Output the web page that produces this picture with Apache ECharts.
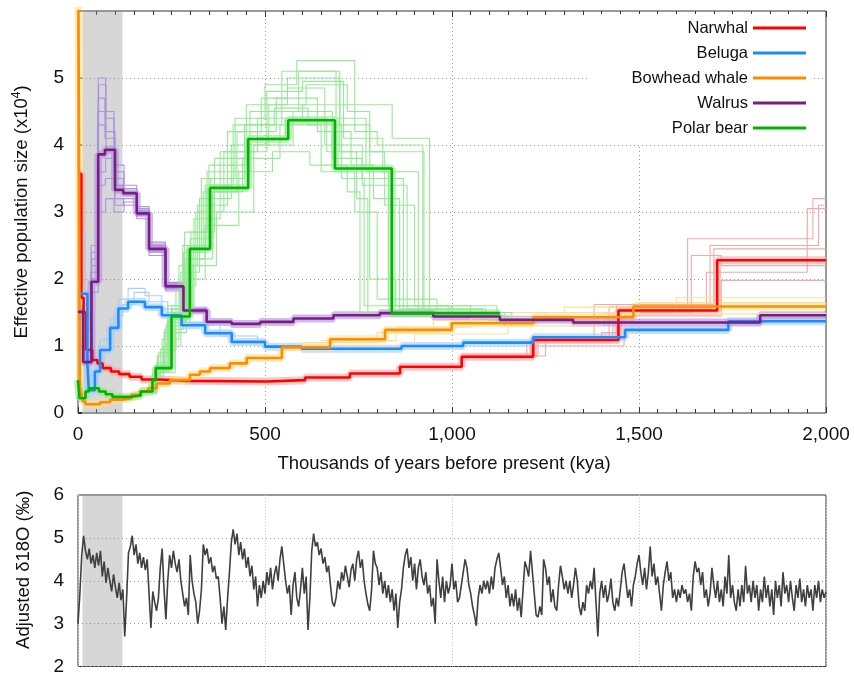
<!DOCTYPE html>
<html><head><meta charset="utf-8">
<script src="https://cdn.jsdelivr.net/npm/echarts@6/dist/echarts.min.js"></script>
<style>html,body{margin:0;padding:0;background:#fff}#c{width:854px;height:676px}</style>
</head><body><div id="c"></div>
<script>
// ---------- DATA ----------
const speciesNames = ['Narwhal', 'Beluga', 'Bowhead whale', 'Walrus', 'Polar bear'];
const xTicks = [0, 500, 1000, 1500, 2000];
const shadeRange = [12, 119]; // kya

// PSMC main curves: [kya (start of step), Ne x10^4]
const narwhal = [[0,3.57],[9,1.72],[15,1.5],[22,0.94],[38,0.79],[52,0.74],[66,0.67],[88,0.62],[110,0.58],[138,0.54],[170,0.5],[220,0.48],[290,0.47],[505,0.49],[607,0.53],[727,0.59],[861,0.69],[1026,0.84],[1217,1.09],[1445,1.53],[1709,2.28],[2000,2.28]];
const beluga = [[0,1.78],[25,0.74],[29,0.34],[45,0.62],[59,0.94],[86,1.27],[108,1.56],[134,1.66],[179,1.58],[224,1.46],[277,1.31],[340,1.19],[411,1.06],[500,0.99],[598,0.96],[865,1.0],[1030,1.05],[1217,1.13],[1463,1.24],[1739,1.37],[2000,1.37]];
const bowhead = [[0,8],[5,0.4],[10,0.24],[14,0.17],[20,0.13],[59,0.16],[86,0.2],[117,0.22],[143,0.27],[166,0.32],[188,0.37],[210,0.44],[246,0.49],[299,0.57],[326,0.62],[353,0.67],[406,0.74],[451,0.82],[545,0.98],[674,1.1],[821,1.24],[999,1.34],[1218,1.43],[1485,1.59],[2000,1.59]];
const walrus = [[0,1.51],[14,0.76],[36,1.96],[54,3.86],[72,3.93],[99,3.33],[121,3.28],[157,2.98],[190,2.45],[234,1.89],[282,1.53],[344,1.36],[411,1.33],[487,1.36],[576,1.41],[683,1.46],[807,1.49],[950,1.44],[1128,1.39],[1324,1.35],[1824,1.46],[2000,1.46]];
const polarBear = [[0,0.49],[4,0.22],[20,0.32],[29,0.37],[56,0.32],[74,0.28],[92,0.24],[136,0.26],[168,0.32],[199,0.49],[208,0.67],[250,1.44],[299,2.45],[353,3.36],[455,4.09],[562,4.37],[687,3.65],[839,1.49],[1128,1.49]];

// bootstrap replicates (hand-read, only where they spread visibly)
const narwhalBoot = [
  [[1026,0.86],[1230,1.12],[1380,1.62],[1630,2.6],[1965,3.2],[2000,3.2]],
  [[1026,0.82],[1200,1.06],[1420,1.58],[1680,2.1],[1950,3.05],[2000,3.05]],
  [[1026,0.84],[1217,1.0],[1460,1.45],[1720,1.98],[2000,1.98]],
  [[1026,0.85],[1250,1.1],[1400,1.2],[1440,1.62],[1700,2.45],[2000,2.45]],
  [[1026,0.83],[1210,1.08],[1430,1.5],[1640,2.35],[1720,2.2],[2000,2.2]],
  [[1026,0.86],[1220,1.1],[1450,1.55],[1690,2.5],[1980,3.1],[2000,3.1]]
];
const belugaBoot = [
  [[29,0.5],[45,0.8],[60,1.1],[86,1.4],[108,1.7],[134,1.86],[179,1.75],[224,1.55],[277,1.35],[340,1.22],[411,1.08],[500,1.0]],
  [[0,2.7],[20,1.2],[30,0.45],[50,0.7],[70,1.1],[95,1.45],[120,1.62],[150,1.8],[190,1.66],[240,1.5],[300,1.33],[380,1.15],[480,1.02]]
];
const bowheadBoot = [
  [[600,1.05],[800,1.2],[950,1.38],[1100,1.5],[1300,1.58],[1600,1.72],[2000,1.72]],
  [[650,1.08],[850,1.28],[1050,1.42],[1250,1.5],[1500,1.65],[2000,1.65]],
  [[700,1.0],[900,1.18],[1150,1.3],[1400,1.48],[2000,1.5]]
];
const walrusBoot = [
  [[0,1.5],[14,0.8],[36,2.4],[54,5.0],[74,4.5],[96,3.6],[123,3.4],[157,3.05],[190,2.55],[234,1.95],[282,1.55],[344,1.38]],
  [[0,1.4],[16,0.9],[38,1.8],[54,3.0],[74,3.2],[96,3.0],[123,3.15],[157,2.9],[190,2.35],[234,1.82],[282,1.5],[344,1.34]],
  [[0,1.6],[12,0.85],[34,2.1],[52,4.3],[74,4.2],[99,3.5],[121,3.3],[157,3.0],[190,2.5],[234,1.9],[282,1.52],[344,1.36]],
  [[0,1.5],[14,0.75],[36,2.0],[56,3.6],[74,3.8],[99,3.1],[121,3.2],[157,2.95],[190,2.4],[234,1.86],[282,1.54],[344,1.35]],
  [[0,1.55],[15,0.8],[36,2.2],[54,4.7],[72,4.1],[99,3.7],[123,3.35],[157,3.02],[190,2.48],[234,1.92],[282,1.55],[344,1.37]],
  [[0,1.45],[13,0.78],[35,2.5],[53,4.5],[73,4.4],[97,3.4],[122,3.25],[157,2.95],[190,2.5],[234,1.9],[282,1.53],[344,1.36]],
  [[0,1.5],[15,0.82],[37,2.3],[55,4.9],[75,3.9],[98,3.2],[122,3.1],[157,3.0],[190,2.42],[234,1.85],[282,1.52],[344,1.35]],
  [[0,1.52],[14,0.8],[36,2.0],[54,3.4],[73,3.5],[98,3.4],[122,3.3],[157,3.08],[190,2.52],[234,1.93],[282,1.56],[344,1.37]]
];
const polarBearBoot = [
  [[190,0.32],[200,0.55],[212,0.85],[240,1.6],[280,2.5],[330,3.5],[420,4.4],[500,4.9],[585,5.26],[740,4.2],[800,4.0],[922,1.45],[1150,1.4]],
  [[190,0.3],[202,0.5],[215,0.9],[255,1.5],[300,2.6],[350,3.7],[450,4.6],[560,4.85],[660,4.0],[760,3.5],[870,1.5],[1100,1.35]],
  [[190,0.32],[205,0.6],[230,1.2],[290,2.0],[340,2.8],[430,3.6],[520,3.9],[620,3.7],[720,3.3],[754,1.5],[1000,1.45]],
  [[190,0.3],[210,0.7],[250,1.6],[310,2.9],[380,3.9],[480,4.4],[600,4.6],[700,3.9],[820,3.1],[900,1.6],[1050,1.4]],
  [[190,0.33],[200,0.6],[225,1.1],[270,2.2],[320,3.1],[400,4.2],[490,4.7],[560,5.0],[700,4.3],[780,2.0],[850,1.6],[1120,1.35]],
  [[190,0.3],[208,0.65],[245,1.4],[295,2.3],[360,3.3],[440,3.8],[540,4.3],[650,3.6],[740,3.0],[800,1.7],[960,1.5],[1160,1.3]],
  [[190,0.31],[204,0.7],[235,1.3],[285,2.7],[345,3.6],[460,4.5],[590,5.1],[700,4.6],[840,4.1],[940,1.5],[1130,1.35]],
  [[190,0.32],[210,0.6],[260,1.5],[305,2.2],[370,3.0],[470,4.0],[575,4.5],[680,3.8],[760,3.4],[880,1.55],[1080,1.4]],
  [[190,0.3],[206,0.55],[228,1.0],[275,2.1],[325,3.2],[410,4.0],[510,4.6],[610,4.9],[720,4.5],[780,3.9],[925,1.5],[1140,1.3]],
  [[190,0.31],[203,0.6],[232,1.25],[282,2.4],[335,3.3],[425,4.2],[530,4.7],[640,4.2],[730,3.7],[790,3.2],[860,1.55],[1090,1.4]],
  [[190,0.32],[207,0.62],[242,1.45],[292,2.5],[355,3.5],[445,4.3],[545,5.1],[690,4.4],[770,3.6],[830,1.6],[1000,1.45]],
  [[190,0.3],[211,0.75],[252,1.55],[302,2.7],[365,3.8],[455,4.1],[555,4.4],[665,3.9],[745,3.2],[775,1.5],[1020,1.4]],
  [[190,0.31],[201,0.5],[220,0.95],[262,1.9],[315,3.0],[390,3.9],[505,4.8],[600,4.95],[710,4.1],[815,3.6],[910,1.5],[1110,1.35]],
  [[190,0.32],[209,0.68],[238,1.35],[288,2.3],[340,3.4],[415,4.3],[525,4.55],[615,4.3],[705,3.5],[765,1.6],[990,1.4]]
];

// Adjusted d18O, sampled every 5 kya from 0 to 2000 kya
const d18oStepKya = 5;
const d18o = [
3.0,3.7,4.6,5.05,4.7,4.5,4.75,4.4,4.6,4.3,
4.65,4.35,4.7,4.1,4.45,3.95,4.3,4.0,3.75,4.15,
3.85,3.6,3.95,3.55,3.8,2.7,3.6,4.65,4.8,5.05,
4.6,4.85,4.4,4.65,4.3,4.55,4.25,4.5,3.7,2.9,
3.75,3.5,3.3,3.6,4.3,4.75,3.8,3.1,4.0,4.6,
4.3,4.7,4.4,4.2,4.5,4.0,3.7,3.4,3.6,3.2,
4.6,4.0,3.7,3.5,3.0,3.3,3.8,4.85,4.6,4.75,
4.4,4.55,4.2,4.35,4.05,4.1,3.6,3.0,3.4,2.85,
3.6,4.2,4.9,5.2,4.85,5.1,4.6,4.9,4.5,4.75,
4.3,4.55,4.1,4.35,3.8,4.1,3.4,3.9,3.6,4.0,
3.7,4.2,3.9,4.3,3.8,4.15,4.35,4.0,4.5,4.8,
4.4,4.0,3.7,3.9,3.2,3.9,4.2,3.6,3.4,3.8,
4.3,3.7,4.1,2.85,3.6,4.7,5.1,4.8,4.9,4.6,
4.75,4.4,4.55,4.2,4.35,3.9,3.5,3.4,3.6,4.0,
3.8,4.2,4.0,4.35,4.1,3.85,4.25,4.4,4.0,4.5,
4.7,4.3,4.5,4.0,3.7,3.45,3.3,3.8,4.7,4.4,
4.3,3.9,4.2,3.7,4.0,3.6,3.9,3.5,3.8,3.3,
3.7,2.9,3.5,3.8,4.3,4.6,4.75,4.3,4.55,4.0,
4.4,3.8,4.3,4.5,4.1,3.9,4.2,3.7,3.9,3.4,
3.6,3.0,4.5,4.0,3.6,4.1,3.5,4.0,3.7,3.9,
4.4,3.8,4.0,3.5,3.6,3.9,4.2,4.5,4.3,3.9,
3.7,3.4,3.2,2.95,3.6,3.9,3.7,4.0,3.8,4.0,
3.7,4.1,3.8,4.3,4.5,4.65,4.3,3.9,4.1,3.6,
3.9,3.4,3.7,3.4,3.8,3.3,3.6,3.15,3.8,4.45,
4.3,4.1,4.7,4.2,3.7,3.2,3.15,3.4,3.2,4.5,
4.3,3.9,4.1,3.5,3.8,3.4,3.3,3.9,4.35,4.1,
3.8,4.0,3.7,4.0,3.6,3.9,4.3,4.0,3.4,3.2,
3.5,3.3,3.9,3.7,4.0,3.8,4.3,3.5,2.7,3.7,
4.0,3.6,3.9,3.5,3.7,4.05,3.5,3.3,3.6,3.4,
3.8,4.2,4.4,4.0,3.6,3.8,3.4,3.9,4.1,4.4,
4.6,4.2,3.9,4.3,3.8,4.2,4.8,4.1,4.4,3.9,
4.1,3.7,3.3,3.9,4.2,4.45,4.0,4.2,3.6,3.8,
3.5,3.8,3.6,3.9,3.7,3.8,3.5,3.7,3.3,4.1,
4.45,4.2,4.3,3.9,4.2,3.6,3.8,3.4,3.7,4.3,
3.9,3.6,4.0,3.5,3.8,3.4,4.1,3.7,4.6,3.6,
3.9,3.5,3.3,3.8,3.4,3.9,3.5,4.35,3.7,3.9,
3.5,4.0,3.6,3.9,3.3,3.8,3.5,4.1,3.6,3.9,
3.4,3.8,3.2,4.0,3.6,3.9,3.4,4.2,3.7,3.9,
3.5,4.0,3.6,3.3,3.9,3.6,4.05,3.5,3.8,3.4,
3.9,3.6,3.8,3.3,3.9,3.6,4.0,3.5,3.8,3.6,
3.75
];

// ---------- STYLE ----------
const mainColors = ['#ff0000', '#1a8cff', '#ff8c00', '#7d1c80', '#00b300'];
const bootColors = ['#f7a3a3', '#a3cdf7', '#fddf8c', '#ab8fe0', '#93e693'];
const FONT = 'Liberation Sans, Arial, sans-serif';
const txt = '#111';

const chart = echarts.init(document.getElementById('c'), null, {renderer: 'canvas'});
const mainData = [narwhal, beluga, bowhead, walrus, polarBear];
const bootData = [narwhalBoot, belugaBoot, bowheadBoot, walrusBoot, polarBearBoot];

const series = [];
series.push({
  type: 'line', xAxisIndex: 0, yAxisIndex: 0, data: [], silent: true,
  markArea: {silent: true, itemStyle: {color: 'rgba(150,150,150,0.38)'}, data: [[{xAxis: shadeRange[0]}, {xAxis: shadeRange[1]}]]}
});
mainData.forEach((d, i) => series.push({
  type: 'line', step: 'end', xAxisIndex: 0, yAxisIndex: 0, data: d, symbol: 'none', silent: true,
  lineStyle: {color: bootColors[i], width: 8, opacity: 0.6}, z: 2
}));
bootData.forEach((arr, i) => arr.forEach(d => series.push({
  type: 'line', step: 'end', xAxisIndex: 0, yAxisIndex: 0, data: d, symbol: 'none', silent: true,
  lineStyle: {color: bootColors[i], width: 1.1, opacity: 0.95}, z: 3
})));
mainData.forEach((d, i) => series.push({
  name: speciesNames[i], type: 'line', step: 'end', xAxisIndex: 0, yAxisIndex: 0, data: d, symbol: 'none',
  lineStyle: {color: mainColors[i], width: 2.6}, itemStyle: {color: mainColors[i]}, z: 5
}));
series.push({
  type: 'line', xAxisIndex: 2, yAxisIndex: 1, symbol: 'none', silent: true,
  data: d18o.map((v, k) => [k * d18oStepKya, v]),
  lineStyle: {color: '#404040', width: 1.6}, z: 3,
  markArea: {silent: true, itemStyle: {color: 'rgba(150,150,150,0.38)'}, data: [[{xAxis: shadeRange[0]}, {xAxis: shadeRange[1]}]]}
});

const gridLine = {show: true, lineStyle: {color: '#999', type: [1, 3], width: 1}};
const kfmt = v => xTicks.includes(v) ? v.toLocaleString('en-US') : '';

chart.setOption({
  animation: false,
  backgroundColor: '#fff',
  grid: [
    {left: 78, right: 28, top: 11, height: 402, show: true, borderColor: '#333', borderWidth: 1},
    {left: 78, right: 28, top: 495, height: 178, show: true, borderColor: '#333', borderWidth: 1}
  ],
  legend: {
    data: speciesNames, orient: 'vertical', align: 'right', right: 40, top: 14,
    icon: 'rect', itemWidth: 53, itemHeight: 3, itemGap: 5,
    backgroundColor: '#fff', padding: [4, 8, 6, 44],
    textStyle: {fontSize: 16.5, color: txt, fontFamily: FONT, lineHeight: 20}
  },
  xAxis: [
    {type: 'value', gridIndex: 0, min: 0, max: 2000, interval: 500,
     name: 'Thousands of years before present (kya)', nameLocation: 'middle', nameGap: 41,
     nameTextStyle: {fontSize: 18.5, color: txt, fontFamily: FONT, padding: [0, 16, 0, 0]},
     axisLine: {show: false}, axisTick: {show: true, inside: true, length: 6, lineStyle: {color: '#333'}},
     minorTick: {show: true, splitNumber: 10, length: 4, lineStyle: {color: '#333'}},
     axisLabel: {formatter: kfmt, fontSize: 19, color: txt, fontFamily: FONT, margin: 12},
     splitLine: gridLine},
    {type: 'value', gridIndex: 0, position: 'top', min: 0, max: 2000, interval: 500,
     axisLine: {show: false}, axisTick: {show: true, inside: true, length: 6, lineStyle: {color: '#333'}},
     minorTick: {show: true, splitNumber: 10, length: 4, lineStyle: {color: '#333'}},
     axisLabel: {show: false}, splitLine: {show: false}},
    {type: 'value', gridIndex: 1, min: 0, max: 2000, interval: 500,
     axisLine: {show: false}, axisTick: {show: false}, axisLabel: {show: false},
     splitLine: {show: true, lineStyle: {color: '#ccc', type: [1, 2], width: 1}}}
  ],
  yAxis: [
    {type: 'value', gridIndex: 0, min: 0, max: 6, interval: 1,
     name: '{a|Effective population size (x10}{s|4}{a|)}', nameLocation: 'middle', nameGap: 45,
     nameTextStyle: {rich: {
       a: {fontSize: 18.5, color: txt, fontFamily: FONT},
       s: {fontSize: 12, color: txt, fontFamily: FONT, padding: [0, 0, 10, 0]}
     }},
     axisLine: {show: false}, axisTick: {show: true, inside: true, length: 4, lineStyle: {color: '#111', width: 1.5}},
     axisLabel: {formatter: v => v === 6 ? '' : String(v), fontSize: 19, color: txt, fontFamily: FONT, margin: 14},
     splitLine: gridLine},
    {type: 'value', gridIndex: 1, min: 2, max: 6, interval: 1,
     name: 'Adjusted δ18O (‰)', nameLocation: 'middle', nameGap: 45,
     nameTextStyle: {fontSize: 18.5, color: txt, fontFamily: FONT, padding: [0, 0, 0, 22]},
     axisLine: {show: false}, axisTick: {show: false},
     axisLabel: {fontSize: 19, color: txt, fontFamily: FONT, margin: 14},
     splitLine: gridLine}
  ],
  series: series
});
</script></body></html>
